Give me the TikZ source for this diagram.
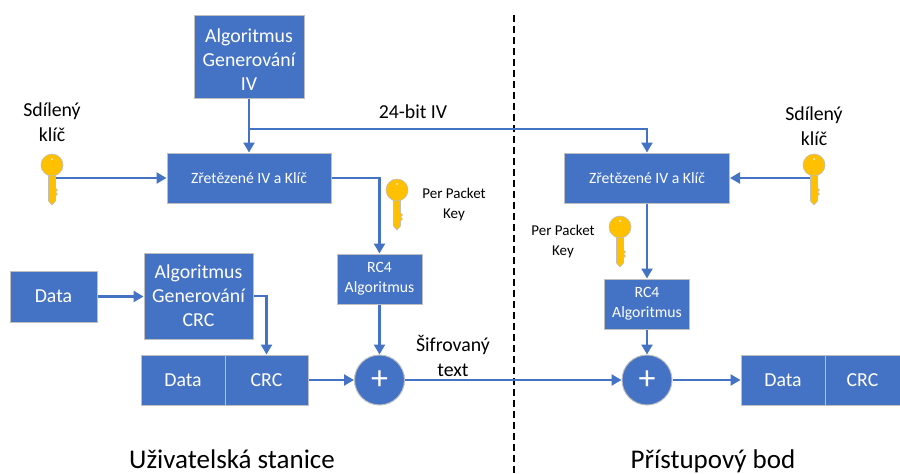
\documentclass[tikz,border=0pt]{standalone}
\usepackage{fontspec}
\setmainfont{Carlito}
\usetikzlibrary{arrows.meta}

\definecolor{boxblue}{HTML}{4472C4}
\definecolor{keygold}{HTML}{FFC000}

\tikzset{
	block/.style={draw=black!25, line width=1pt, fill=boxblue, text=white, align=center, inner sep=0pt, font=\fontsize{19.8}{24}\selectfont},
	smallblock/.style={block, font=\fontsize{15.7}{19.5}\selectfont},
	sumnode/.style={circle, draw=black!25, line width=1pt, fill=boxblue, text=white, minimum size=50pt, inner sep=0pt, font=\fontsize{34}{34}\selectfont},
	flow/.style={draw=boxblue, line width=2.4pt, -{Triangle[length=10pt,width=11pt]}},
	caption/.style={align=center, inner sep=0pt, font=\fontsize{19.8}{25}\selectfont},
	smallcaption/.style={align=center, inner sep=0pt, font=\fontsize{15}{20}\selectfont},
	title/.style={inner sep=0pt, anchor=base, font=\fontsize{27}{30}\selectfont},
	keyshape/.pic={
		\draw[draw=black!25, line width=0.6pt, fill=keygold] (-3.5,8) -- (-3.5,36) -- (0,40) -- (3.5,36) -- (3.5,31) -- (5.5,29) -- (3.5,27) -- (5.5,25) -- (3.5,23) -- (3.5,8) -- cycle;
		\draw[draw=black!25, line width=0.6pt, fill=keygold] (0,0) circle (11);
		\fill[white!85!keygold] (0,-6) circle (1);
	}
}

\begin{document}
\begin{tikzpicture}[x=1pt,y=-1pt]
	\useasboundingbox (0,0) rectangle (900,474);

	% divider
	\draw[line width=1.2pt, dashed, dash pattern=on 7pt off 4pt] (514,15) -- (514,474);

	% sender side
	\node[block, minimum width=110pt, minimum height=83pt] (genIV) at (249,56.5) {\rule{0pt}{19pt}Algoritmus\\Generování\\IV};
	\node[smallblock, minimum width=164pt, minimum height=50pt] (joinA) at (249,178) {Zřetězené IV a Klíč};
	\node[smallblock, minimum width=85pt, minimum height=50pt] (rcA) at (379.5,279) {RC4\\Algoritmus};
	\node[block, minimum width=87pt, minimum height=51pt] (dataIn) at (53.5,296.5) {Data};
	\node[block, minimum width=109pt, minimum height=86pt] (genCRC) at (198.5,296) {Algoritmus\\Generování\\CRC};
	\node[block, minimum width=84pt, minimum height=50pt] (dataA) at (183,380) {Data};
	\node[block, minimum width=83pt, minimum height=50pt] (crcA) at (266.5,380) {CRC};
	\node[sumnode] (sumA) at (379.5,380) {+};

	% receiver side
	\node[smallblock, minimum width=165pt, minimum height=50pt] (joinB) at (647,178) {Zřetězené IV a Klíč};
	\node[smallblock, minimum width=85pt, minimum height=50pt] (rcB) at (647,304) {RC4\\Algoritmus};
	\node[sumnode] (sumB) at (647,380) {+};
	\node[block, minimum width=84pt, minimum height=50pt] (dataB) at (783,380) {Data};
	\node[block, minimum width=75pt, minimum height=50pt] (crcB) at (862.5,380) {CRC};

	% keys
	\pic at (52,165) {keyshape};
	\pic at (814,165) {keyshape};
	\pic at (397,190) {keyshape};
	\pic at (620,227) {keyshape};
	\coordinate (keyA) at (56,178);
	\coordinate (keyB) at (810,178);
	\coordinate (branch) at (249,129);

	% labels
	\node[caption] (sharedA) at (52,122) {Sdílený\\klíč};
	\node[caption] (sharedB) at (814,126) {Sdílený\\klíč};
	\node[caption] (ivlabel) at (413,112) {24-bit IV};
	\node[caption] (cipher) at (453,356) {Šifrovaný\\text};
	\node[smallcaption] (packetA) at (454,204) {Per Packet\\Key};
	\node[smallcaption] (packetB) at (563,241) {Per Packet\\Key};
	\node[title] (stationA) at (232,468) {Uživatelská stanice};
	\node[title] (stationB) at (713,468) {Přístupový bod};

	% connectors
	\draw[flow] (genIV) -- (joinA);
	\draw[flow] (branch) -| (joinB);
	\draw[flow] (keyA) -- (joinA);
	\draw[flow] (keyB) -- (joinB);
	\draw[flow] (joinA.east) -| (rcA.north);
	\draw[flow] (rcA) -- (sumA);
	\draw[flow] (dataIn) -- (dataIn -| genCRC.west);
	\draw[flow] (genCRC.east) -| (crcA.north);
	\draw[flow] (crcA) -- (sumA);
	\draw[flow] (sumA) -- (sumB);
	\draw[flow] (joinB) -- (rcB);
	\draw[flow] (rcB) -- (sumB);
	\draw[flow] (sumB) -- (dataB);
\end{tikzpicture}
\end{document}
